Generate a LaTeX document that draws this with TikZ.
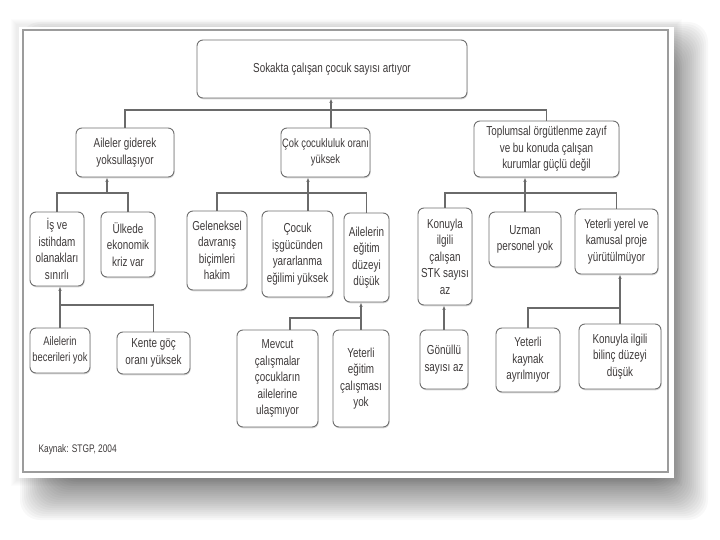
\documentclass[tikz,border=0pt]{standalone}
\usepackage{fontspec}
\setmainfont{Liberation Sans}[FakeStretch=0.76]
\usetikzlibrary{arrows.meta,shadows}
\definecolor{boxline}{HTML}{707070}
\definecolor{linkline}{HTML}{6A6A6A}
\definecolor{ink}{HTML}{3E3A3A}
\definecolor{frameline}{HTML}{9C9C9C}
\begin{document}
\begin{tikzpicture}[x=1pt,y=-1pt,
    cause/.style={draw=boxline,line width=0.9pt,rounded corners=6pt,fill=white,text=ink,align=center,
      inner xsep=0.5pt,inner ysep=1pt,font=\fontsize{13}{16.5}\selectfont,
      drop shadow={shadow xshift=0.6pt,shadow yshift=-1.3pt,fill=black!30}},
    tightcause/.style={cause,font=\fontsize{12.3}{16.5}\selectfont},
    link/.style={draw=linkline,line width=1.1pt},
    arrowlink/.style={link,-{Latex[length=4.5pt,width=3.5pt]}}]
            \useasboundingbox (0,0) rectangle (720,540);
            
            % Drawing shadow of the panel
            \foreach \i in {0,...,5}
              \fill[black,opacity=0.012] ({19-8+\i},{27-8+\i}) rectangle ({674+8-\i},{478+8-\i});%
            \foreach \i in {0,...,24}
              \fill[black,opacity=0.028,rounded corners=20pt] ({44-24+2*\i},{46-24+2*\i}) rectangle ({684+24-2*\i},{496+24-2*\i});%
            
            % Drawing panel and its frame
            \fill[white] (19,27) rectangle (674,478);%
            \draw[frameline,line width=1.3pt] (23,30) rectangle (668,472);%
            
            % Marking top box
            \node[cause,minimum width=270pt,minimum height=58pt] (top) at (332,69) {Sokakta çalışan çocuk sayısı artıyor};%
            
            % Marking second row
            \node[cause,minimum width=98pt,minimum height=49pt] (poor) at (125,152.5) {Aileler giderek\\yoksullaşıyor};%
            \node[tightcause,minimum width=89pt,minimum height=49pt] (many) at (325.5,152.5) {Çok çocukluluk oranı\\yüksek};%
            \node[cause,minimum width=145pt,minimum height=56pt] (org) at (546.5,149) {Toplumsal örgütlenme zayıf\\ve bu konuda çalışan\\kurumlar güçlü değil};%
            
            % Marking third row
            \node[cause,minimum width=54pt,minimum height=74pt] (jobs) at (57,249) {İş ve\\istihdam\\olanakları\\sınırlı};%
            \node[cause,minimum width=54pt,minimum height=65pt] (crisis) at (128,244.5) {Ülkede\\ekonomik\\kriz var};%
            \node[cause,minimum width=60pt,minimum height=79pt] (trad) at (217,250.5) {Geleneksel\\davranış\\biçimleri\\hakim};%
            \node[cause,minimum width=71pt,minimum height=86pt] (labour) at (297.5,254) {Çocuk\\işgücünden\\yararlanma\\eğilimi yüksek};%
            \node[cause,minimum width=45pt,minimum height=89pt] (educ) at (366.5,257.5) {Ailelerin\\eğitim\\düzeyi\\düşük};%
            \node[cause,minimum width=54pt,minimum height=97pt] (stk) at (445,256.5) {Konuyla\\ilgili\\çalışan\\STK sayısı\\az};%
            \node[cause,minimum width=72pt,minimum height=55pt] (expert) at (525,239.5) {Uzman\\personel yok};%
            \node[cause,minimum width=83pt,minimum height=65pt] (project) at (616.5,241.5) {Yeterli yerel ve\\kamusal proje\\yürütülmüyor};%
            
            % Marking fourth row
            \node[tightcause,minimum width=60pt,minimum height=45pt] (skills) at (60,350.5) {Ailelerin\\becerileri yok};%
            \node[cause,minimum width=73pt,minimum height=42pt] (migr) at (153.5,353) {Kente göç\\oranı yüksek};%
            \node[cause,minimum width=81pt,minimum height=97pt] (reach) at (277.5,378.5) {Mevcut\\çalışmalar\\çocukların\\ailelerine\\ulaşmıyor};%
            \node[cause,minimum width=56pt,minimum height=97pt] (train) at (361,378.5) {Yeterli\\eğitim\\çalışması\\yok};%
            \node[cause,minimum width=48pt,minimum height=59pt] (vol) at (444,359.5) {Gönüllü\\sayısı az};%
            \node[cause,minimum width=64pt,minimum height=64pt] (fund) at (528,360) {Yeterli\\kaynak\\ayrılmıyor};%
            \node[cause,minimum width=82pt,minimum height=65pt] (aware) at (620,356.5) {Konuyla ilgili\\bilinç düzeyi\\düşük};%
            
            % Drawing links to top box
            \coordinate (topbus) at (331,110);%
            \draw[link] (poor.north) |- (topbus) -| (org.north);%
            \draw[arrowlink] (many.north -| topbus) -- (top.south -| topbus);%
            
            % Drawing links to second row
            \coordinate (poorbus) at (107,193);%
            \draw[link] (jobs.north) |- (poorbus) -| (crisis.north);%
            \draw[arrowlink] (poorbus) -- (poor.south -| poorbus);%
            \coordinate (manybus) at (308,193);%
            \draw[link] (trad.north) |- (manybus) -| (educ.north);%
            \draw[arrowlink] (labour.north -| manybus) -- (many.south -| manybus);%
            \coordinate (orgbus) at (525,193);%
            \draw[link] (stk.north) |- (orgbus) -| (project.north);%
            \draw[arrowlink] (expert.north) -- (org.south -| expert.north);%
            
            % Drawing links to third row
            \coordinate (jobsbus) at (60,305);%
            \draw[link] (migr.north) |- (jobsbus);%
            \draw[arrowlink] (skills.north) -- (jobs.south -| skills.north);%
            \coordinate (educbus) at (361,318);%
            \coordinate (reachjoin) at (290,318);%
            \draw[link] (reach.north -| reachjoin) |- (educbus);%
            \draw[arrowlink] (train.north) -- (educ.south -| train.north);%
            \draw[arrowlink] (vol.north) -- (stk.south -| vol.north);%
            \coordinate (projbus) at (620,308);%
            \draw[link] (fund.north) |- (projbus);%
            \draw[arrowlink] (aware.north) -- (project.south -| aware.north);%
            
            % Marking source
            \node[anchor=west,text=ink,font=\fontsize{11}{13}\selectfont] (source) at (35,450) {Kaynak: STGP, 2004};%
            
        \end{tikzpicture}
\end{document}
